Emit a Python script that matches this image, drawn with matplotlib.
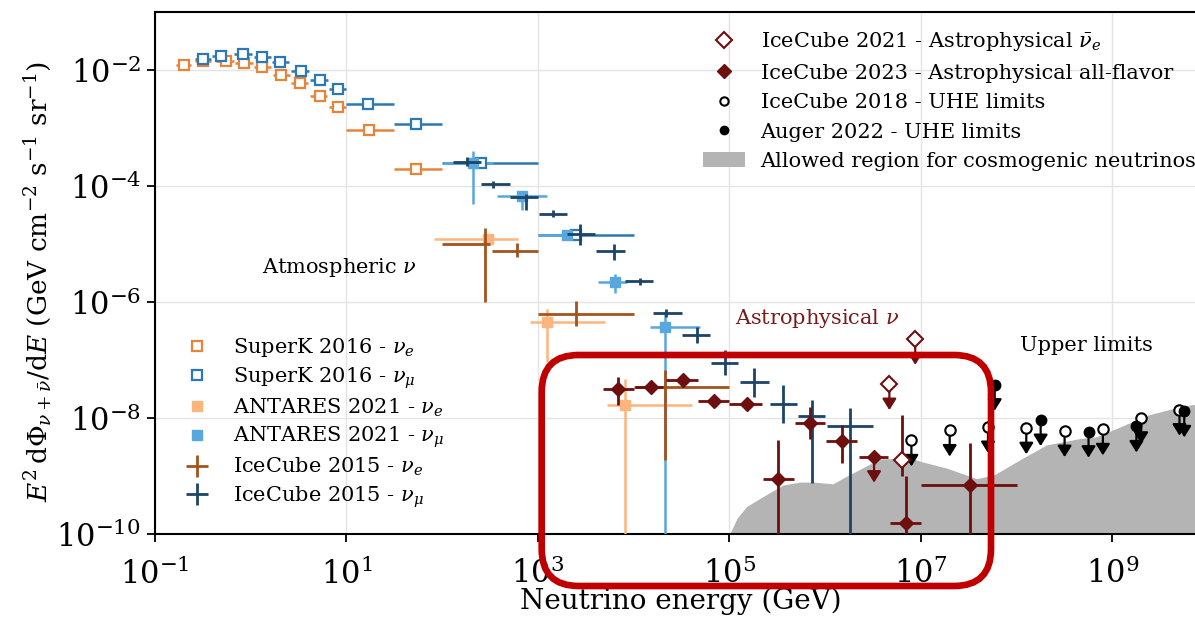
import numpy as np
import matplotlib.pyplot as plt
from matplotlib.lines import Line2D
from matplotlib.patches import Patch, FancyBboxPatch
from matplotlib.transforms import IdentityTransform

plt.rcParams['font.family'] = 'DejaVu Serif'
plt.rcParams['mathtext.fontset'] = 'dejavuserif'

# all values are log10(E / GeV) and log10(E^2 dPhi/dE)
# SuperK 2016
sk_e_lgE = [-0.70, -0.50, -0.26, -0.07, 0.12, 0.32, 0.51, 0.72, 0.91, 1.23, 1.73]
sk_e_lgF = [-1.92, -1.85, -1.84, -1.88, -1.95, -2.08, -2.22, -2.44, -2.64, -3.03, -3.70]
sk_e_lo = [-0.78, -0.58, -0.36, -0.16, 0.03, 0.23, 0.42, 0.62, 0.82, 1.00, 1.50]
sk_e_hi = [-0.62, -0.42, -0.18, 0.02, 0.21, 0.41, 0.60, 0.80, 1.00, 1.50, 2.00]

sk_mu_lgE = [-0.50, -0.31, -0.08, 0.12, 0.31, 0.52, 0.72, 0.91, 1.22, 1.73, 2.41, 3.40]
sk_mu_lgF = [-1.81, -1.76, -1.73, -1.77, -1.87, -2.02, -2.18, -2.32, -2.58, -2.93, -3.60, -4.85]
sk_mu_lo = [-0.58, -0.40, -0.17, 0.03, 0.22, 0.42, 0.62, 0.82, 1.00, 1.50, 2.00, 3.00]
sk_mu_hi = [-0.42, -0.22, 0.01, 0.21, 0.40, 0.61, 0.81, 1.00, 1.50, 2.00, 3.00, 4.00]

# ANTARES 2021
an_e_lgE = [2.48, 3.09, 3.91]
an_e_lgF = [-4.92, -6.34, -7.78]
an_e_lo = [1.91, 2.92, 3.72]
an_e_hi = [2.79, 3.70, 4.61]
an_e_flo = [-4.98, -7.03, -11.0]
an_e_fhi = [-4.86, -6.11, -7.32]

an_mu_lgE = [2.32, 2.83, 3.30, 3.80, 4.33]
an_mu_lgF = [-3.61, -4.17, -4.85, -5.65, -6.43]
an_mu_lo = [2.01, 2.57, 3.00, 3.63, 4.17]
an_mu_hi = [2.53, 3.09, 3.44, 3.93, 4.69]
an_mu_flo = [-4.30, -4.42, -4.92, -5.85, -11.0]
an_mu_fhi = [-3.39, -4.08, -4.78, -5.51, -6.17]

# IceCube 2015
ic15_e_lgE = [2.45, 2.78, 3.40, 4.33]
ic15_e_lgF = [-4.99, -5.11, -6.20, -7.46]
ic15_e_lo = [2.00, 2.52, 3.00, 4.00]
ic15_e_hi = [2.50, 3.00, 4.00, 5.00]
ic15_e_flo = [-6.00, -5.23, -6.41, -8.72]
ic15_e_fhi = [-4.73, -4.98, -5.98, -7.17]

ic15_mu_lgE = [2.26, 2.53, 2.88, 3.16, 3.44, 3.79, 4.07, 4.34, 4.66, 4.95, 5.26, 5.56, 5.86, 6.26]
ic15_mu_lgF = [-3.58, -3.97, -4.19, -4.48, -4.82, -5.11, -5.64, -6.19, -6.57, -7.05, -7.37, -7.75, -7.96, -8.13]
ic15_mu_lo = [2.11, 2.41, 2.71, 3.01, 3.30, 3.61, 3.91, 4.20, 4.50, 4.81, 5.11, 5.42, 5.72, 6.02]
ic15_mu_hi = [2.41, 2.71, 3.00, 3.30, 3.60, 3.91, 4.20, 4.50, 4.80, 5.09, 5.41, 5.70, 6.00, 6.50]
ic15_mu_flo = [-3.65, -4.04, -4.42, -4.53, -5.02, -5.28, -5.70, -6.25, -6.70, -7.26, -7.63, -8.09, -9.12, -11.0]
ic15_mu_fhi = [-3.50, -3.91, -4.13, -4.42, -4.66, -4.99, -5.58, -6.12, -6.42, -6.83, -7.14, -7.43, -7.69, -7.83]

# IceCube 2023 all-flavor
ic23_lgE = [3.84, 4.18, 4.51, 4.84, 5.18, 5.51, 5.84, 6.17, 6.84, 7.51]
ic23_lgF = [-7.50, -7.46, -7.34, -7.70, -7.75, -9.04, -8.08, -8.39, -9.80, -9.15]
ic23_lo = [3.68, 4.01, 4.34, 4.67, 5.00, 5.35, 5.68, 6.01, 6.68, 7.00]
ic23_hi = [4.00, 4.31, 4.67, 5.00, 5.34, 5.67, 6.00, 6.33, 7.00, 8.00]
ic23_flo = [-7.77, -7.52, -7.40, -7.76, -7.81, -11.0, -8.35, -8.78, -11.0, -11.0]
ic23_fhi = [-7.29, -7.40, -7.28, -7.64, -7.69, -8.38, -7.80, -8.12, -9.00, -8.43]
ic23_ul_lgE = [6.51]
ic23_ul_lgF = [-8.66]
ic23_ul_lo = [6.35]
ic23_ul_hi = [6.66]

# IceCube 2021 Glashow-resonance bin and upper limits
ic21_lgE = [6.80]
ic21_lgF = [-8.72]
ic21_flo = [-9.00]
ic21_fhi = [-7.95]
ic21_ul_lgE = [6.67, 6.94]
ic21_ul_lgF = [-7.41, -6.63]

# UHE upper limits
ic18_lgE = [6.9, 7.3, 7.7, 8.1, 8.5, 8.9, 9.3, 9.7]
ic18_lgF = [-8.38, -8.21, -8.15, -8.17, -8.22, -8.19, -7.99, -7.85]
aug_lgE = [7.77, 8.25, 8.75, 9.25, 9.75]
aug_lgF = [-7.42, -8.03, -8.23, -8.14, -7.88]

# cosmogenic allowed region, upper edge
cosmo_lgE = [5.00, 5.08, 5.18, 5.35, 5.56, 5.74, 5.88, 6.08, 6.20, 6.35, 6.57, 6.90,
             7.01, 7.27, 7.58, 7.76, 8.03, 8.31, 8.66, 8.83, 9.08, 9.36, 9.71, 9.86]
cosmo_lgF = [-10.0, -9.72, -9.52, -9.35, -9.15, -9.10, -9.10, -9.13, -9.02, -8.89, -8.70, -8.69,
             -8.75, -8.86, -9.04, -8.98, -8.72, -8.46, -8.35, -8.32, -8.15, -7.95, -7.80, -7.76]

ul_drop = 0.45  # arrow length of upper limits, in decades

c_sk_e = '#e8833a'
c_sk_mu = '#2c78b4'
c_an_e = '#fdb57e'
c_an_mu = '#58a7de'
c_ic_e = '#a3531d'
c_ic_mu = '#1c4466'
c_astro = '#6e0f0f'
c_gray = '#b4b4b4'


def p(a):
    return 10.0 ** np.asarray(a, dtype=float)


def bars(ax, lgE, lgF, lo, hi, flo=None, fhi=None, **kw):
    x, y = p(lgE), p(lgF)
    xerr = [x - p(lo), p(hi) - x]
    yerr = None
    if flo is not None:
        yerr = [y - p(flo), p(fhi) - y]
    return ax.errorbar(x, y, xerr=xerr, yerr=yerr, **kw)


def arrows(ax, lgE, lgF, color, z):
    for e, f in zip(lgE, lgF):
        ax.annotate('', xy=(10 ** e, 10 ** (f - ul_drop)), xytext=(10 ** e, 10 ** f),
                    arrowprops=dict(arrowstyle='-|>,head_length=0.45,head_width=0.28',
                                    color=color, lw=1.6, shrinkA=0, shrinkB=0,
                                    mutation_scale=15), zorder=z)


W, H = 1195, 617
fig = plt.figure(figsize=(W / 100, H / 100), dpi=100)
ax = fig.add_axes([155 / W, (H - 534.3) / H, 1040 / W, 522.3 / H])
ax.set_xscale('log')
ax.set_yscale('log')
ax.set_xlim(1e-1, 10 ** 9.862)
ax.set_ylim(1e-10, 1e-1)

# cosmogenic band
ax.fill_between(p(cosmo_lgE), 1e-12, p(cosmo_lgF), color=c_gray, lw=0, zorder=1)

# atmospheric
bars(ax, sk_e_lgE, sk_e_lgF, sk_e_lo, sk_e_hi, fmt='s', ms=7.5, mfc='white', mec=c_sk_e,
     mew=1.6, ecolor=c_sk_e, elinewidth=1.8, color=c_sk_e, zorder=3)
bars(ax, sk_mu_lgE, sk_mu_lgF, sk_mu_lo, sk_mu_hi, fmt='s', ms=7.5, mfc='white', mec=c_sk_mu,
     mew=1.6, ecolor=c_sk_mu, elinewidth=1.8, color=c_sk_mu, zorder=3)
bars(ax, an_e_lgE, an_e_lgF, an_e_lo, an_e_hi, an_e_flo, an_e_fhi, fmt='s', ms=7,
     color=c_an_e, ecolor=c_an_e, elinewidth=1.8, zorder=3)
bars(ax, an_mu_lgE, an_mu_lgF, an_mu_lo, an_mu_hi, an_mu_flo, an_mu_fhi, fmt='s', ms=7,
     color=c_an_mu, ecolor=c_an_mu, elinewidth=1.8, zorder=3)
bars(ax, ic15_e_lgE, ic15_e_lgF, ic15_e_lo, ic15_e_hi, ic15_e_flo, ic15_e_fhi, fmt='none',
     ecolor=c_ic_e, elinewidth=2.0, zorder=4)
bars(ax, ic15_mu_lgE, ic15_mu_lgF, ic15_mu_lo, ic15_mu_hi, ic15_mu_flo, ic15_mu_fhi, fmt='none',
     ecolor=c_ic_mu, elinewidth=2.0, zorder=4)

# astrophysical
bars(ax, ic23_lgE, ic23_lgF, ic23_lo, ic23_hi, ic23_flo, ic23_fhi, fmt='D', ms=7,
     color=c_astro, ecolor=c_astro, elinewidth=2.0, zorder=5)
bars(ax, ic23_ul_lgE, ic23_ul_lgF, ic23_ul_lo, ic23_ul_hi, fmt='D', ms=7,
     color=c_astro, ecolor=c_astro, elinewidth=2.0, zorder=5)
arrows(ax, ic23_ul_lgE, ic23_ul_lgF, c_astro, 5)
ax.errorbar(p(ic21_lgE), p(ic21_lgF),
            yerr=[p(ic21_lgF) - p(ic21_flo), p(ic21_fhi) - p(ic21_lgF)],
            fmt='D', ms=8, mfc='white', mec=c_astro, mew=1.5, ecolor=c_astro,
            elinewidth=2.0, zorder=6)
arrows(ax, ic21_ul_lgE, ic21_ul_lgF, c_astro, 5)
ax.plot(p(ic21_ul_lgE), p(ic21_ul_lgF), 'D', ms=8, mfc='white', mec=c_astro, mew=1.5, zorder=6)

# UHE limits
arrows(ax, ic18_lgE, ic18_lgF, 'black', 6)
arrows(ax, aug_lgE, aug_lgF, 'black', 6)
ax.plot(p(ic18_lgE), p(ic18_lgF), 'o', ms=7.5, mfc='white', mec='black', mew=1.5, zorder=7)
ax.plot(p(aug_lgE), p(aug_lgF), 'o', ms=7.5, color='black', zorder=7)

# axes styling
ax.set_xticks([1e-1, 1e1, 1e3, 1e5, 1e7, 1e9])
ax.set_yticks([1e-10, 1e-8, 1e-6, 1e-4, 1e-2])
ax.minorticks_off()
ax.grid(True, color='#e4e4e4', lw=1.0, zorder=0)
ax.set_axisbelow(True)
for s in ['left', 'bottom', 'top']:
    ax.spines[s].set_linewidth(1.5)
ax.spines['right'].set_visible(False)
ax.tick_params(labelsize=22, length=6, width=1.3)
ax.tick_params(axis='x', pad=11)
ax.tick_params(axis='y', pad=4)
ax.set_xlabel('Neutrino energy (GeV)', fontsize=20)
ax.set_ylabel(r'$E^2\,\mathrm{d}\Phi_{\nu+\bar{\nu}}/\mathrm{d}E\ (\mathrm{GeV\ cm^{-2}\ s^{-1}\ sr^{-1}})$',
              fontsize=19)
ax.xaxis.set_label_coords(0.506, -0.103)
ax.yaxis.set_label_coords(-0.097, 0.485)

ax.text(1.31, 10 ** -5.40, r'Atmospheric $\nu$', fontsize=15, va='center')
ax.text(10 ** 5.057, 10 ** -6.277, r'Astrophysical $\nu$', fontsize=15, va='center', color='#7a1a1a')
ax.text(10 ** 8.034, 10 ** -6.742, 'Upper limits', fontsize=15, va='center')

# legends
h_atm = [
    Line2D([], [], ls='none', marker='s', ms=7.5, mfc='white', mec=c_sk_e, mew=1.6),
    Line2D([], [], ls='none', marker='s', ms=7.5, mfc='white', mec=c_sk_mu, mew=1.6),
    Line2D([], [], ls='none', marker='s', ms=7.5, color=c_an_e),
    Line2D([], [], ls='none', marker='s', ms=7.5, color=c_an_mu),
    Line2D([], [], ls='none', marker='+', ms=16, mew=2, color=c_ic_e),
    Line2D([], [], ls='none', marker='+', ms=16, mew=2, color=c_ic_mu),
]
l_atm = [r'SuperK 2016 - $\nu_e$', r'SuperK 2016 - $\nu_\mu$', r'ANTARES 2021 - $\nu_e$',
         r'ANTARES 2021 - $\nu_\mu$', r'IceCube 2015 - $\nu_e$', r'IceCube 2015 - $\nu_\mu$']
leg1 = ax.legend(h_atm, l_atm, loc='upper left', bbox_to_anchor=(169 / W, 1 - 328 / H),
                 bbox_transform=fig.transFigure, frameon=False, fontsize=15,
                 labelspacing=0.28, borderaxespad=0, handletextpad=0.75, handlelength=1.9)
ax.add_artist(leg1)

h_top = [
    Line2D([], [], ls='none', marker='D', ms=8, mfc='white', mec=c_astro, mew=1.5),
    Line2D([], [], ls='none', marker='D', ms=7, color=c_astro),
    Line2D([], [], ls='none', marker='o', ms=6, mfc='white', mec='black', mew=1.5),
    Line2D([], [], ls='none', marker='o', ms=6, color='black'),
    Patch(facecolor=c_gray, edgecolor='none'),
]
l_top = [r'IceCube 2021 - Astrophysical $\bar{\nu}_e$', 'IceCube 2023 - Astrophysical all-flavor',
         'IceCube 2018 - UHE limits', 'Auger 2022 - UHE limits',
         'Allowed region for cosmogenic neutrinos']
ax.legend(h_top, l_top, loc='upper left', bbox_to_anchor=(695 / W, 1 - 22 / H),
          bbox_transform=fig.transFigure, frameon=False, fontsize=15,
          labelspacing=0.5, borderaxespad=0, handletextpad=0.75, handlelength=2.0)

# highlight box around the astrophysical data
box = FancyBboxPatch((541.7, H - 586), 449.3, 231, boxstyle='round,pad=0,rounding_size=37',
                     transform=IdentityTransform(), fill=False, ec='#c00000', lw=4.8,
                     zorder=20, clip_on=False)
fig.add_artist(box)

fig.savefig('out.png', dpi=100)
